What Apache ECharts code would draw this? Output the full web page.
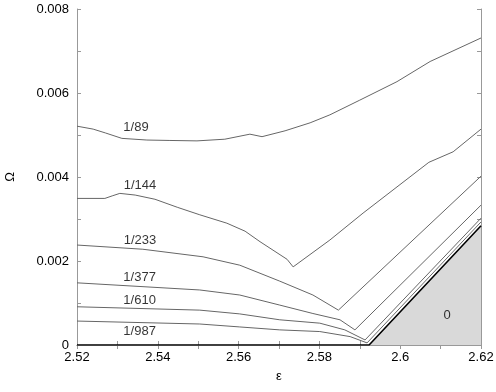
<!DOCTYPE html>
<html><head><meta charset="utf-8">
<script src="https://cdn.jsdelivr.net/npm/echarts@6/dist/echarts.min.js"></script>
<style>html,body{margin:0;padding:0;background:#fff}#c{width:496px;height:392px}</style>
</head><body><div id="c"></div>
<script>
// Curves: [epsilon, Omega]
const curve89 = [[2.52,0.00521],[2.524,0.00514],[2.527,0.00505],[2.5311,0.00492],[2.5373,0.00488],[2.543,0.00487],[2.5497,0.00486],[2.5566,0.00490],[2.5628,0.00502],[2.5658,0.00496],[2.5715,0.00510],[2.5777,0.00529],[2.5826,0.00548],[2.590,0.00583],[2.5992,0.00627],[2.6074,0.00675],[2.62,0.00731]];
const curve144 = [[2.52,0.00349],[2.5269,0.00349],[2.5287,0.00355],[2.5306,0.00361],[2.5344,0.00357],[2.5393,0.00347],[2.5448,0.00328],[2.5504,0.00310],[2.5571,0.00290],[2.5616,0.00271],[2.5653,0.00246],[2.5720,0.00204],[2.5735,0.00186],[2.5826,0.00250],[2.5908,0.00314],[2.6071,0.00435],[2.6131,0.00460],[2.62,0.00514]];
const curve233 = [[2.52,0.00238],[2.5363,0.00228],[2.5512,0.00210],[2.5603,0.00190],[2.5702,0.00152],[2.5784,0.00119],[2.5847,0.00083],[2.62,0.00402]];
const curve377 = [[2.52,0.00148],[2.5504,0.00131],[2.5603,0.00119],[2.5702,0.00095],[2.5784,0.00075],[2.5851,0.00060],[2.5888,0.00036],[2.62,0.00333]];
const curve610 = [[2.52,0.00091],[2.5504,0.00083],[2.5603,0.00074],[2.5702,0.00060],[2.5801,0.00052],[2.5863,0.00036],[2.5913,0.00012],[2.62,0.00302]];
const curve987 = [[2.52,0.00057],[2.5504,0.00050],[2.5603,0.00043],[2.5702,0.00036],[2.5801,0.00032],[2.5876,0.00020],[2.5918,0.00005],[2.62,0.00293]];
const boundary = [[2.52,0],[2.5923,0],[2.62,0.00284]];
const zeroRegion = [[2.5923,0],[2.62,0.00284]];
const labelNames = ['1/89','1/144','1/233','1/377','1/610','1/987','0'];
const labelPos = [[2.5346,0.00517],[2.5356,0.00381],[2.5356,0.00250],[2.5355,0.00160],[2.5355,0.00107],[2.5355,0.00032],[2.6116,0.00071]];
const xTicks = {min:2.52,max:2.62,interval:0.01};
const yTicks = {min:0,max:0.008,interval:0.001};

const chart = echarts.init(document.getElementById('c'));
const axisColor = '#999';
const curveColor = '#666';
const font = 'Liberation Sans';
function lineSeries(d){return {type:'line',data:d,symbol:'none',lineStyle:{color:curveColor,width:1},silent:true,z:3};}
const tickHide = (v, step) => (Math.round(v/step) % 2 === 0);
chart.setOption({
  animation:false,
  grid:{left:77,right:15,top:9,bottom:47,containLabel:false,outerBoundsMode:'none'},
  xAxis:[{type:'value',min:xTicks.min,max:xTicks.max,interval:xTicks.interval,
    name:'ε',nameLocation:'middle',nameGap:25,nameTextStyle:{fontFamily:font,fontSize:13,color:'#000'},
    axisLine:{lineStyle:{color:axisColor}},splitLine:{show:false},
    axisTick:{inside:true,length:4,lineStyle:{color:axisColor}},
    axisLabel:{fontFamily:font,fontSize:13,color:'#000',margin:6,
      formatter:v=>tickHide(v,0.01)?String(+v.toFixed(2)):''}},
   {type:'value',position:'top',min:xTicks.min,max:xTicks.max,interval:xTicks.interval,
    axisLine:{lineStyle:{color:axisColor}},splitLine:{show:false},
    axisTick:{inside:true,length:4,lineStyle:{color:axisColor}},axisLabel:{show:false}}],
  yAxis:[{type:'value',min:yTicks.min,max:yTicks.max,interval:yTicks.interval,
    name:'Ω',nameLocation:'middle',nameGap:60,nameRotate:90,nameTextStyle:{fontFamily:font,fontSize:13,color:'#000'},
    axisLine:{show:true,lineStyle:{color:axisColor}},splitLine:{show:false},
    axisTick:{show:true,inside:true,length:4,lineStyle:{color:axisColor}},
    axisLabel:{fontFamily:font,fontSize:13,color:'#000',margin:8,
      formatter:v=>tickHide(v,0.001)?String(+v.toFixed(3)):''}},
   {type:'value',position:'right',min:yTicks.min,max:yTicks.max,interval:yTicks.interval,
    axisLine:{show:true,lineStyle:{color:axisColor}},splitLine:{show:false},
    axisTick:{show:true,inside:true,length:4,lineStyle:{color:axisColor}},axisLabel:{show:false}}],
  series:[
    {type:'line',data:zeroRegion,symbol:'none',lineStyle:{width:0},areaStyle:{color:'#d9d9d9',opacity:1},silent:true,z:1},
    lineSeries(curve89),lineSeries(curve144),lineSeries(curve233),lineSeries(curve377),lineSeries(curve610),lineSeries(curve987),
    {type:'line',data:boundary,symbol:'none',lineStyle:{color:'#000',width:1.6},silent:true,z:4},
    {type:'scatter',data:labelPos.map((p,i)=>({value:p,name:labelNames[i]})),symbolSize:0,silent:true,z:5,
      label:{show:true,position:'inside',formatter:p=>p.name,fontFamily:font,fontSize:13,color:'#000'}}
  ]
});
</script></body></html>
